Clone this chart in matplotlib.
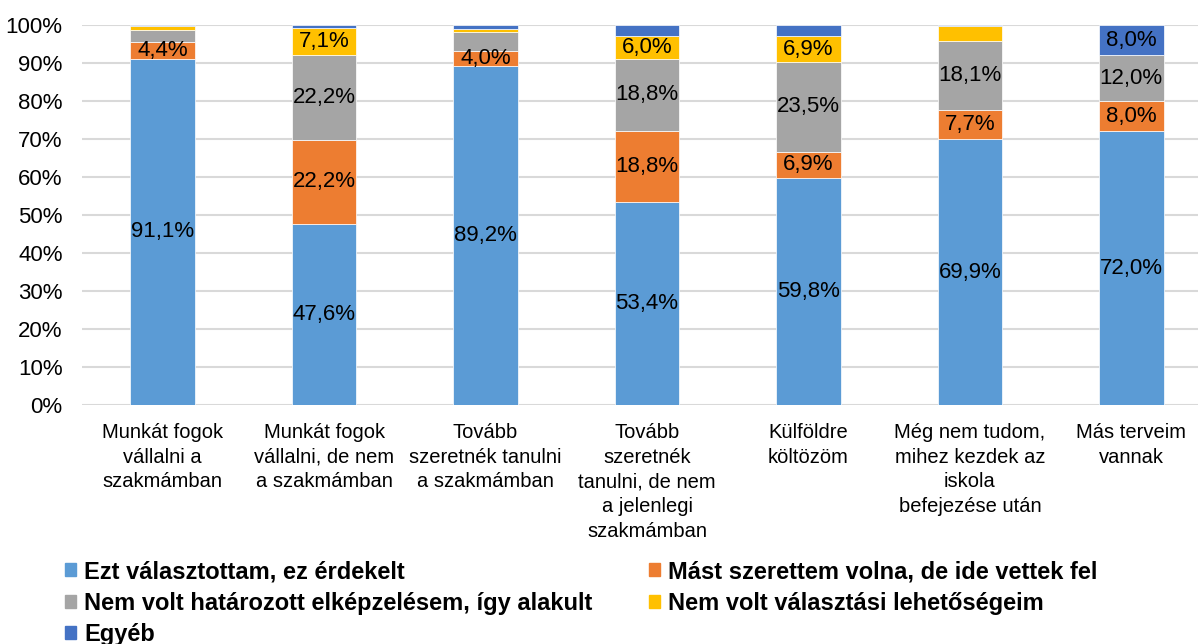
import matplotlib.pyplot as plt
from matplotlib.patches import Patch
import numpy as np

plt.rcParams['font.family'] = ['Liberation Sans', 'DejaVu Sans']

kategoriak = [
    "Munkát fogok\nvállalni a\nszakmámban",
    "Munkát fogok\nvállalni, de nem\na szakmámban",
    "Tovább\nszeretnék tanulni\na szakmámban",
    "Tovább\nszeretnék\ntanulni, de nem\na jelenlegi\nszakmámban",
    "Külföldre\nköltözöm",
    "Még nem tudom,\nmihez kezdek az\niskola\nbefejezése után",
    "Más terveim\nvannak",
]

sorozatok = [
    "Ezt választottam, ez érdekelt",
    "Mást szerettem volna, de ide vettek fel",
    "Nem volt határozott elképzelésem, így alakult",
    "Nem volt választási lehetőségeim",
    "Egyéb",
]
szinek = ["#5B9BD5", "#ED7D31", "#A5A5A5", "#FFC000", "#4472C4"]

erdekelt = [91.1, 47.6, 89.2, 53.4, 59.8, 69.9, 72.0]
mast = [4.4, 22.2, 4.0, 18.8, 6.9, 7.7, 8.0]
nem_hat = [3.2, 22.2, 4.9, 18.8, 23.5, 18.1, 12.0]
nem_val = [1.0, 7.1, 0.8, 6.0, 6.9, 4.1, 0.0]
egyeb = [0.3, 0.9, 1.1, 3.0, 2.9, 0.2, 8.0]

# which segments carry a value label (as in the original)
cimke = [
    [1, 1, 0, 0, 0],
    [1, 1, 1, 1, 0],
    [1, 1, 0, 0, 0],
    [1, 1, 1, 1, 0],
    [1, 1, 1, 1, 0],
    [1, 1, 1, 0, 0],
    [1, 1, 1, 0, 1],
]

adatok = [erdekelt, mast, nem_hat, nem_val, egyeb]

fig = plt.figure(figsize=(11.98, 6.44), dpi=100)
W, H = 1198, 644
ax = fig.add_axes([82 / W, 1 - 405 / H, (1212 - 82) / W, (405 - 25) / H])

x = np.arange(len(kategoriak))
alja = np.zeros(len(kategoriak))
for k, (ertek, szin) in enumerate(zip(adatok, szinek)):
    ertek = np.array(ertek)
    ax.bar(x, ertek, 0.4, bottom=alja, color=szin, edgecolor='white',
           linewidth=0.5, zorder=3)
    for i in range(len(x)):
        if cimke[i][k]:
            ax.text(x[i], alja[i] + ertek[i] / 2,
                    f"{ertek[i]:.1f}%".replace('.', ','),
                    ha='center', va='center', fontsize=16, color='black',
                    zorder=4)
    alja += ertek

ax.set_xlim(-0.5, len(x) - 0.5)
ax.set_ylim(0, 100)
ax.set_yticks(np.arange(0, 101, 10))
ax.set_yticklabels([f"{v}%" for v in range(0, 101, 10)], fontsize=16)
ax.set_xticks(x)
ax.set_xticklabels(kategoriak, fontsize=14.5, linespacing=1.38)
ax.tick_params(axis='y', length=0, pad=14)
ax.tick_params(axis='x', length=0, pad=13)
ax.grid(axis='y', color='#D9D9D9', linewidth=1.5, zorder=0)
for s in ax.spines.values():
    s.set_visible(False)

fogantyuk = [Patch(color=c) for c in szinek]
sorrend = [0, 2, 4, 1, 3]
fig.legend([fogantyuk[i] for i in sorrend], [sorozatok[i] for i in sorrend],
           ncol=2, loc='upper left', bbox_to_anchor=(44 / W, 1 - 539 / H),
           frameon=False, handlelength=0.45, handleheight=0.45,
           handletextpad=0.35, columnspacing=2.4, labelspacing=0.36,
           prop={'size': 17, 'weight': 'bold'})

fig.savefig('out.png', dpi=100)
